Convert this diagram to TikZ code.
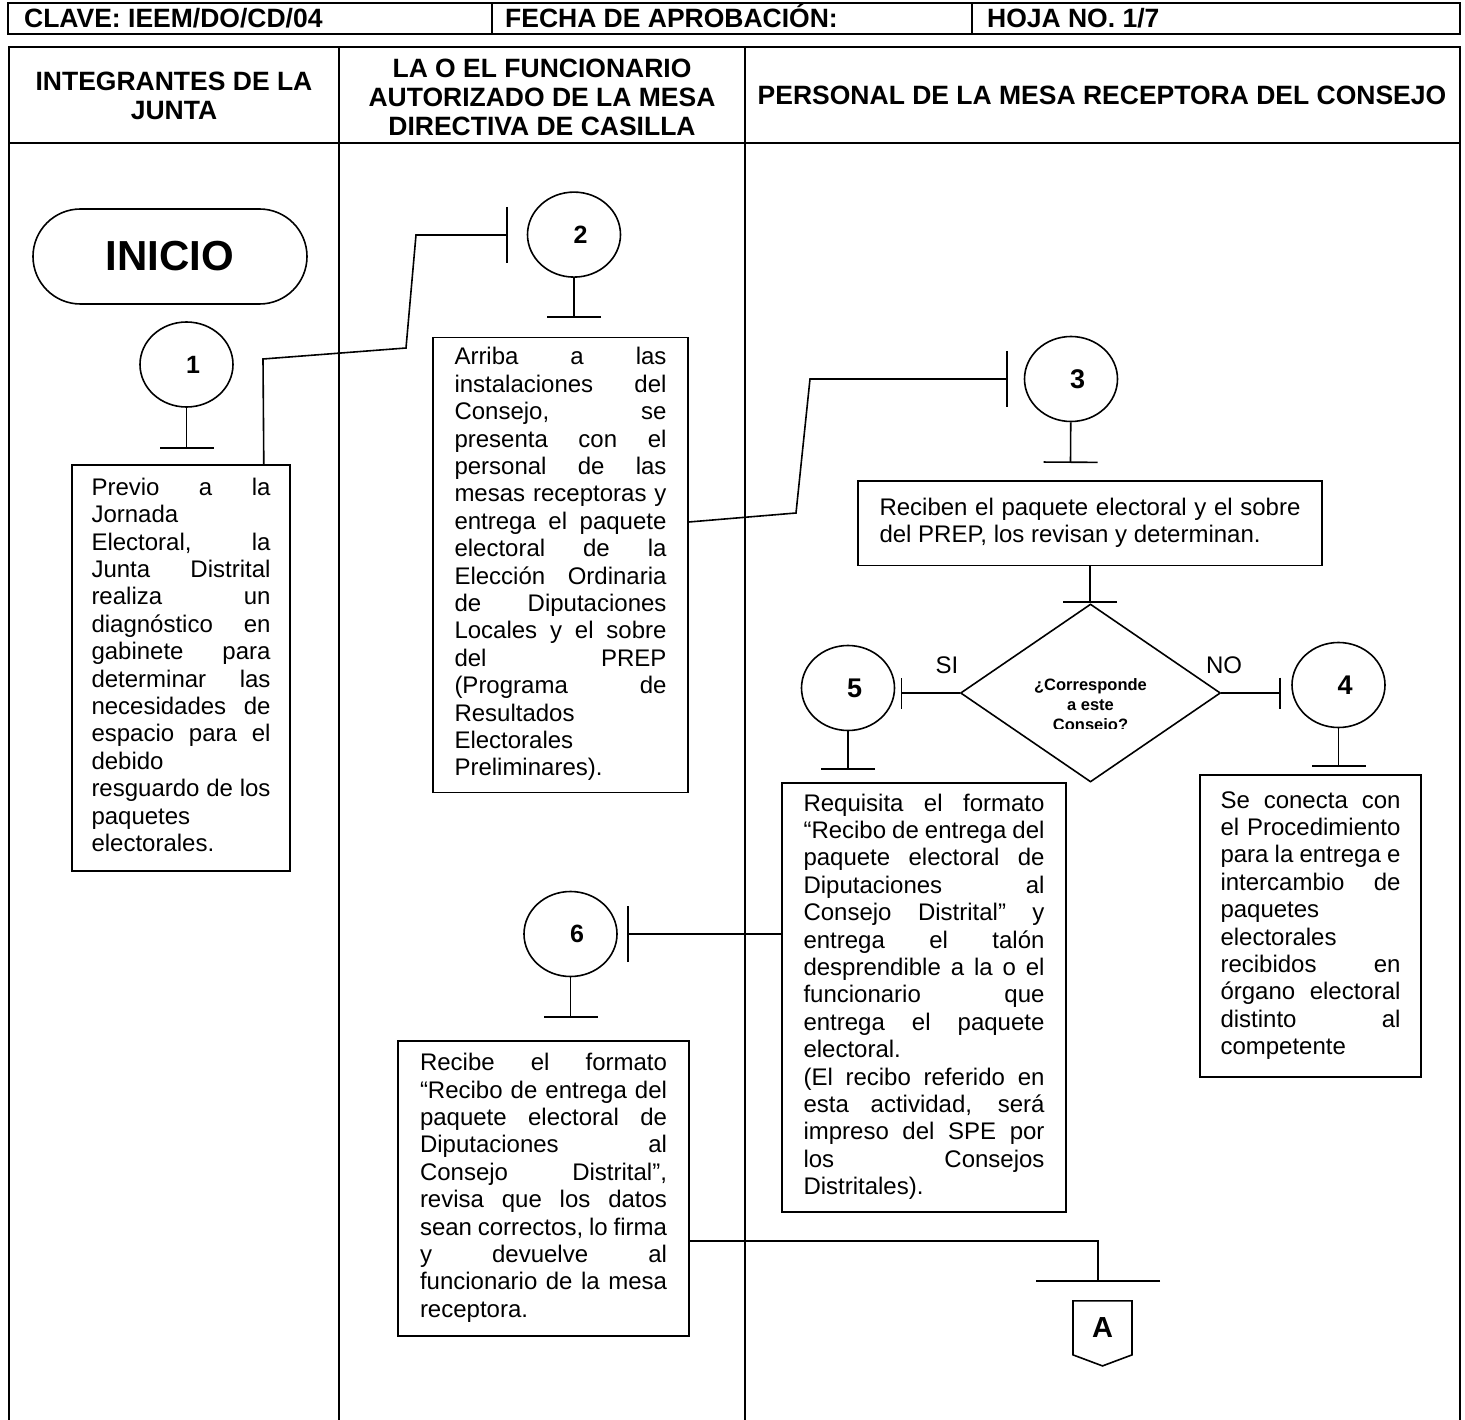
\documentclass[tikz,border=0pt]{standalone}
\usepackage{fontspec}
\setmainfont{Liberation Sans}
\usetikzlibrary{shapes.geometric, shapes.misc, shapes.symbols, arrows.meta}

\newcommand{\jline}[1]{\hbox to\hsize{\strut#1}}
\newcommand{\eline}[1]{\hbox to\hsize{\strut#1\hfil}}
\newcommand{\cnum}[1]{\hspace*{13pt}\raisebox{-5pt}{#1}}

\tikzset{
tbl/.style={line width=2.2pt}, % lines of the table
cell/.style={anchor=base west, font=\bfseries\fontsize{26.5}{30}\selectfont}, % first row texts
hdr/.style={font=\bfseries\fontsize{26.5}{29}\selectfont, align=center}, % column headers
box/.style={draw, rectangle, inner sep=0pt, font=\fontsize{24}{27.4}\selectfont}, % activity boxes
circ/.style={draw, ellipse, minimum width=93pt, minimum height=85pt, inner sep=0pt, font=\bfseries\fontsize{25}{28}\selectfont}, % numbered connectors
bignum/.style={font=\bfseries\fontsize{27}{30}\selectfont}, % larger digits
decision/.style={draw, diamond, minimum width=260pt, minimum height=178pt, inner sep=0pt}, % the question
tee/.style={-{Bar[width=54pt]}}, % stem ending in a bar
sidetee/.style={-{Bar[width=56pt]}}, % line ending in a bar before a circle
shorttee/.style={-{Bar[width=31pt]}}, % short bar beside the question
}

\begin{document}
\begin{tikzpicture}[x=1pt, y=-1pt, line width=1.6pt]
    \useasboundingbox (0,0) rectangle (1465,1420);
    % table
    \draw[tbl] (8,3) rectangle (1460,34);
    \draw[tbl] (492,3) -- (492,34) (972,3) -- (972,34);
    \draw[tbl] (9,1420) -- (9,47) -- (1460,47) -- (1460,1420);
    \draw[tbl] (9,143) -- (1460,143);
    \draw[tbl] (339,47) -- (339,1420) (745,47) -- (745,1420);
    \node[cell] (clave) at (20,28) {CLAVE: IEEM/DO/CD/04};
    \node[cell] (fecha) at (501,28) {FECHA DE APROBACIÓN:};
    \node[cell] (hoja) at (983,28) {HOJA NO. 1/7};
    \node[hdr] (junta) at (174,96) {INTEGRANTES DE LA\\JUNTA};
    \node[hdr] (funcionario) at (542,97) {LA O EL FUNCIONARIO\\AUTORIZADO DE LA MESA\\DIRECTIVA DE CASILLA};
    \node[hdr] (personal) at (1102,95) {PERSONAL DE LA MESA RECEPTORA DEL CONSEJO};

    % shapes
    \node[draw, rounded rectangle, minimum width=274pt, minimum height=95pt, inner sep=0pt,
          font=\bfseries\fontsize{42}{50}\selectfont] (inicio) at (170,256.5) {\raisebox{-5pt}{INICIO}};
    \node[circ] (c1) at (186.5,364.5) {\cnum{1}};
    \node[circ] (c2) at (574,234.6) {\cnum{2}};
    \node[circ, bignum] (c3) at (1071,379) {\cnum{3}};
    \node[circ, bignum] (c5) at (848,688) {\cnum{5}};
    \node[circ, bignum] (c4) at (1338.5,685) {\cnum{4}};
    \node[circ] (c6) at (570.5,934) {\cnum{6}};

    \node[box, minimum width=218pt, minimum height=406pt] (b1) at (181,668) {\parbox{179pt}{%
        \jline{Previo a la}\eline{Jornada}\jline{Electoral, la}\jline{Junta Distrital}%
        \jline{realiza un}\jline{diagnóstico en}\jline{gabinete para}\jline{determinar las}%
        \jline{necesidades de}\jline{espacio para el}\eline{debido}\jline{resguardo de los}%
        \eline{paquetes}\eline{electorales.}}};
    \node[box, minimum width=255pt, minimum height=455pt] (b2) at (560.5,565) {\parbox{212pt}{%
        \jline{Arriba a las}\jline{instalaciones del}\jline{Consejo, se}\jline{presenta con el}%
        \jline{personal de las}\jline{mesas receptoras y}\jline{entrega el paquete}%
        \jline{electoral de la}\jline{Elección Ordinaria}\jline{de Diputaciones}%
        \jline{Locales y el sobre}\jline{del PREP}\jline{(Programa de}\eline{Resultados}%
        \eline{Electorales}\eline{Preliminares).}}};
    \node[box, minimum width=464.5pt, minimum height=84.6pt] (b3) at (1090,523.3) {\parbox{421pt}{%
        \jline{Reciben el paquete electoral y el sobre}\eline{del PREP, los revisan y determinan.}}};
    \node[decision] (q) at (1090.5,693) {};
    \node[box, minimum width=284pt, minimum height=429pt] (b5) at (924,997.5) {\parbox{241pt}{%
        \jline{Requisita el formato}\jline{“Recibo de entrega del}\jline{paquete electoral de}%
        \jline{Diputaciones al}\jline{Consejo Distrital” y}\jline{entrega el talón}%
        \jline{desprendible a la o el}\jline{funcionario que}\jline{entrega el paquete}%
        \eline{electoral.}\jline{(El recibo referido en}\jline{esta actividad, será}%
        \jline{impreso del SPE por}\jline{los Consejos}\eline{Distritales).}}};
    \node[box, minimum width=221pt, minimum height=302pt] (b4) at (1310.5,926) {\parbox{180pt}{%
        \jline{Se conecta con}\jline{el Procedimiento}\jline{para la entrega e}%
        \jline{intercambio de}\eline{paquetes}\eline{electorales}\jline{recibidos en}%
        \jline{órgano electoral}\jline{distinto al}\eline{competente}}};
    \node[box, minimum width=291pt, minimum height=295pt] (b6) at (543.5,1188.5) {\parbox{247pt}{%
        \jline{Recibe el formato}\jline{“Recibo de entrega del}\jline{paquete electoral de}%
        \jline{Diputaciones al}\jline{Consejo Distrital”,}\jline{revisa que los datos}%
        \jline{sean correctos, lo firma}\jline{y devuelve al}\jline{funcionario de la mesa}%
        \eline{receptora.}}};
    \node[draw, signal, signal to=south, signal pointer angle=139, minimum width=59pt,
          minimum height=58pt, inner sep=0pt, anchor=north,
          font=\bfseries\fontsize{29}{32}\selectfont] (offA) at (1102.5,1300) {A};

    % question text, cut at the bottom as printed
    \begin{scope}
        \clip (1000,650) rectangle (1180,728.5);
        \node[font=\bfseries\fontsize{16.5}{20}\selectfont, align=center] (qtext) at (1090.5,706)
            {¿Corresponde\\a este\\Consejo?};
    \end{scope}
    \node[font=\fontsize{24}{28}\selectfont] (si) at (947,665) {SI};
    \node[font=\fontsize{24}{28}\selectfont] (no) at (1224,665) {NO};

    % connectors
    \coordinate (t1) at (186.5,449);
    \coordinate (t2) at (574,318);
    \coordinate (t3) at (1070.5,463);
    \coordinate (t5) at (848,770);
    \coordinate (t4) at (1338.5,767);
    \coordinate (t6) at (570.5,1018);
    \coordinate (tq) at (1090,603);
    \coordinate (t2s) at (508,235);
    \coordinate (t3s) at (1008,379);
    \coordinate (t5s) at (900.5,693);
    \coordinate (t4s) at (1281,693);
    \coordinate (t6s) at (627,934);
    \coordinate (tA) at (1098,1282);
    \draw[tee] (c1) -- (t1);
    \draw[tee] (c2) -- (t2);
    \draw[tee] (c3) -- (t3);
    \draw[tee] (c5) -- (t5);
    \draw[tee] (c4) -- (t4);
    \draw[tee] (c6) -- (t6);
    \draw[tee] (b3) -- (tq);
    \draw[sidetee] ([xshift=-27pt]b1.north east) -- (263,359) -- (406,348) -- (416,235) -- (t2s);
    \draw[sidetee] ([yshift=43pt]b2.east) -- (796,513) -- (810,379) -- (t3s);
    \draw[shorttee] (q.west) -- (t5s);
    \draw[shorttee] (q.east) -- (t4s);
    \draw[sidetee] (b5.west |- t6s) -- (t6s);
    \draw[-{Bar[width=124pt]}] ([yshift=-52.5pt]b6.east) -| (tA);
\end{tikzpicture}
\end{document}
